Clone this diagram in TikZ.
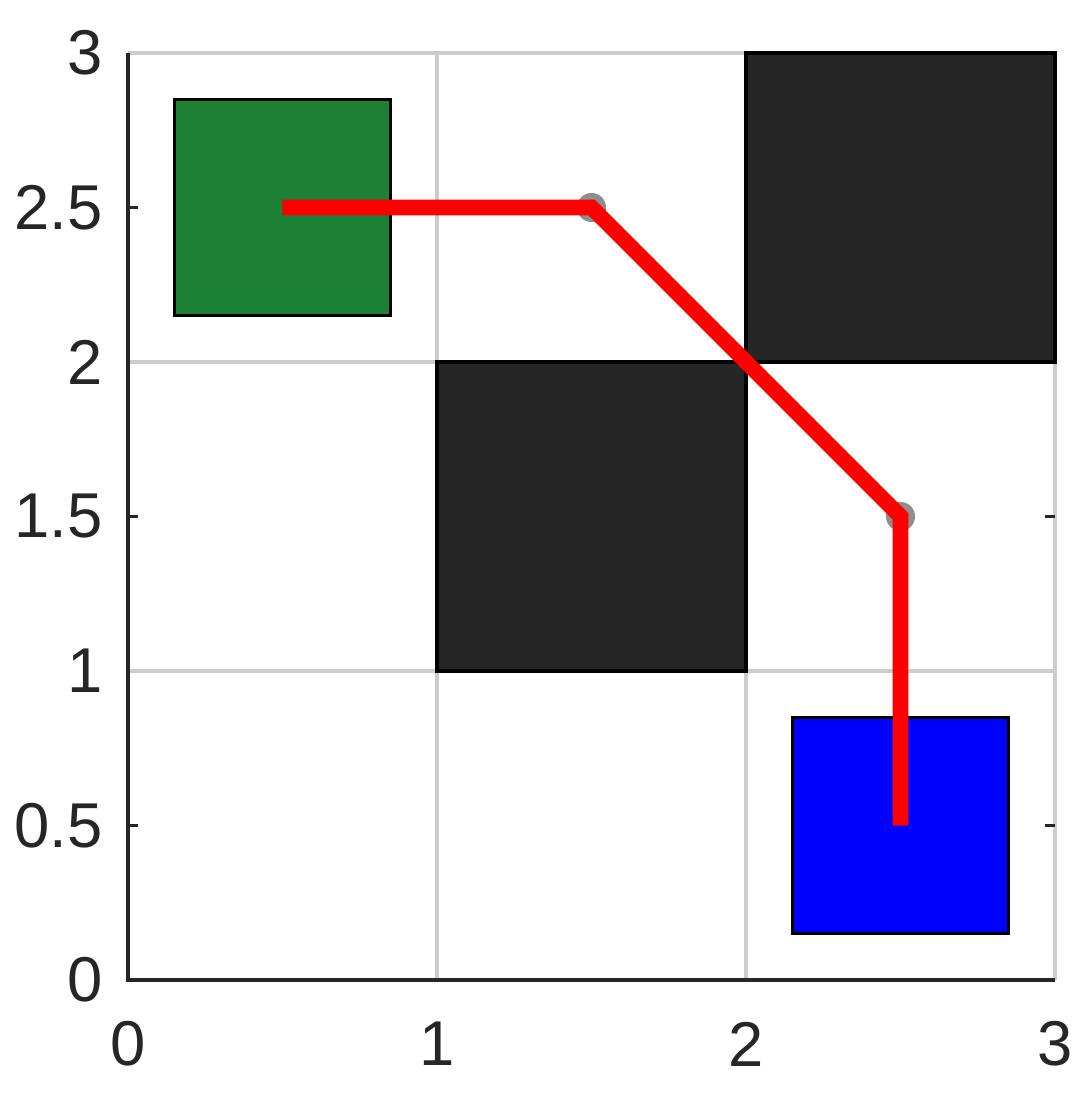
\documentclass[tikz,border=0pt]{standalone}
\usepackage{fontspec}
\setmainfont{Liberation Sans}
\definecolor{axisgray}{HTML}{262626}
\definecolor{gridgray}{HTML}{CCCCCC}
\definecolor{startgreen}{HTML}{1C8035}
\definecolor{goalblue}{HTML}{0000FF}
\definecolor{wallfill}{HTML}{262626}
\definecolor{dotgray}{HTML}{8E8E8E}
\begin{document}
\begin{tikzpicture}[x=3cm,y=3cm,
  gridline/.style={draw=gridgray,line width=0.9pt},
  axisline/.style={draw=axisgray,line width=1pt},
  ticktick/.style={draw=axisgray,line width=1pt},
  cellbox/.style={draw=black,line width=0.9pt},
  waypt/.style={fill=dotgray},
  pathline/.style={draw=red,line width=4.3pt,line cap=butt,line join=miter},
  ylab/.style={anchor=east,inner sep=0pt,text=axisgray,font=\fontsize{17.5}{20}\selectfont},
  xlab/.style={anchor=center,inner sep=0pt,text=axisgray,font=\fontsize{17.5}{20}\selectfont}]
\useasboundingbox (-0.4142,-0.4045) rectangle (3.1165,3.1715);
% grid
\foreach \v in {1,2,3} {
  \draw[gridline] (\v,0) -- (\v,3);
  \draw[gridline] (0,\v) -- (3,\v);
}
% ticks (inward)
\foreach \v in {0.5,1.5,2.5} {
  \draw[ticktick] (0,\v) -- (0.0333,\v);
  \draw[ticktick] (3,\v) -- (2.9667,\v);
}
% cells
\fill[startgreen,cellbox] (0.15,2.15) rectangle (0.85,2.85);
\fill[goalblue,cellbox] (2.15,0.15) rectangle (2.85,0.85);
\fill[wallfill,cellbox] (1,1) rectangle (2,2);
\fill[wallfill,cellbox] (2,2) rectangle (3,3);
% axes
\draw[axisline] (0,3) -- (0,0) -- (3,0);
% path
\coordinate (p0) at (0.5,2.5);
\coordinate (p1) at (1.5,2.5);
\coordinate (p2) at (2.5,1.5);
\coordinate (p3) at (2.5,0.5);
\fill[waypt] (p1) circle (0.047);
\fill[waypt] (p2) circle (0.047);
\draw[pathline] (p0) -- (p1) -- (p2) -- (p3);
% labels
\foreach \v in {0,0.5,1,1.5,2,2.5,3} {
  \node[ylab] (yl\v) at (-0.081,\v) {\v};
}
\foreach \v in {0,1,2,3} {
  \node[xlab] (xl\v) at (\v,-0.207) {\v};
}
\end{tikzpicture}
\end{document}
